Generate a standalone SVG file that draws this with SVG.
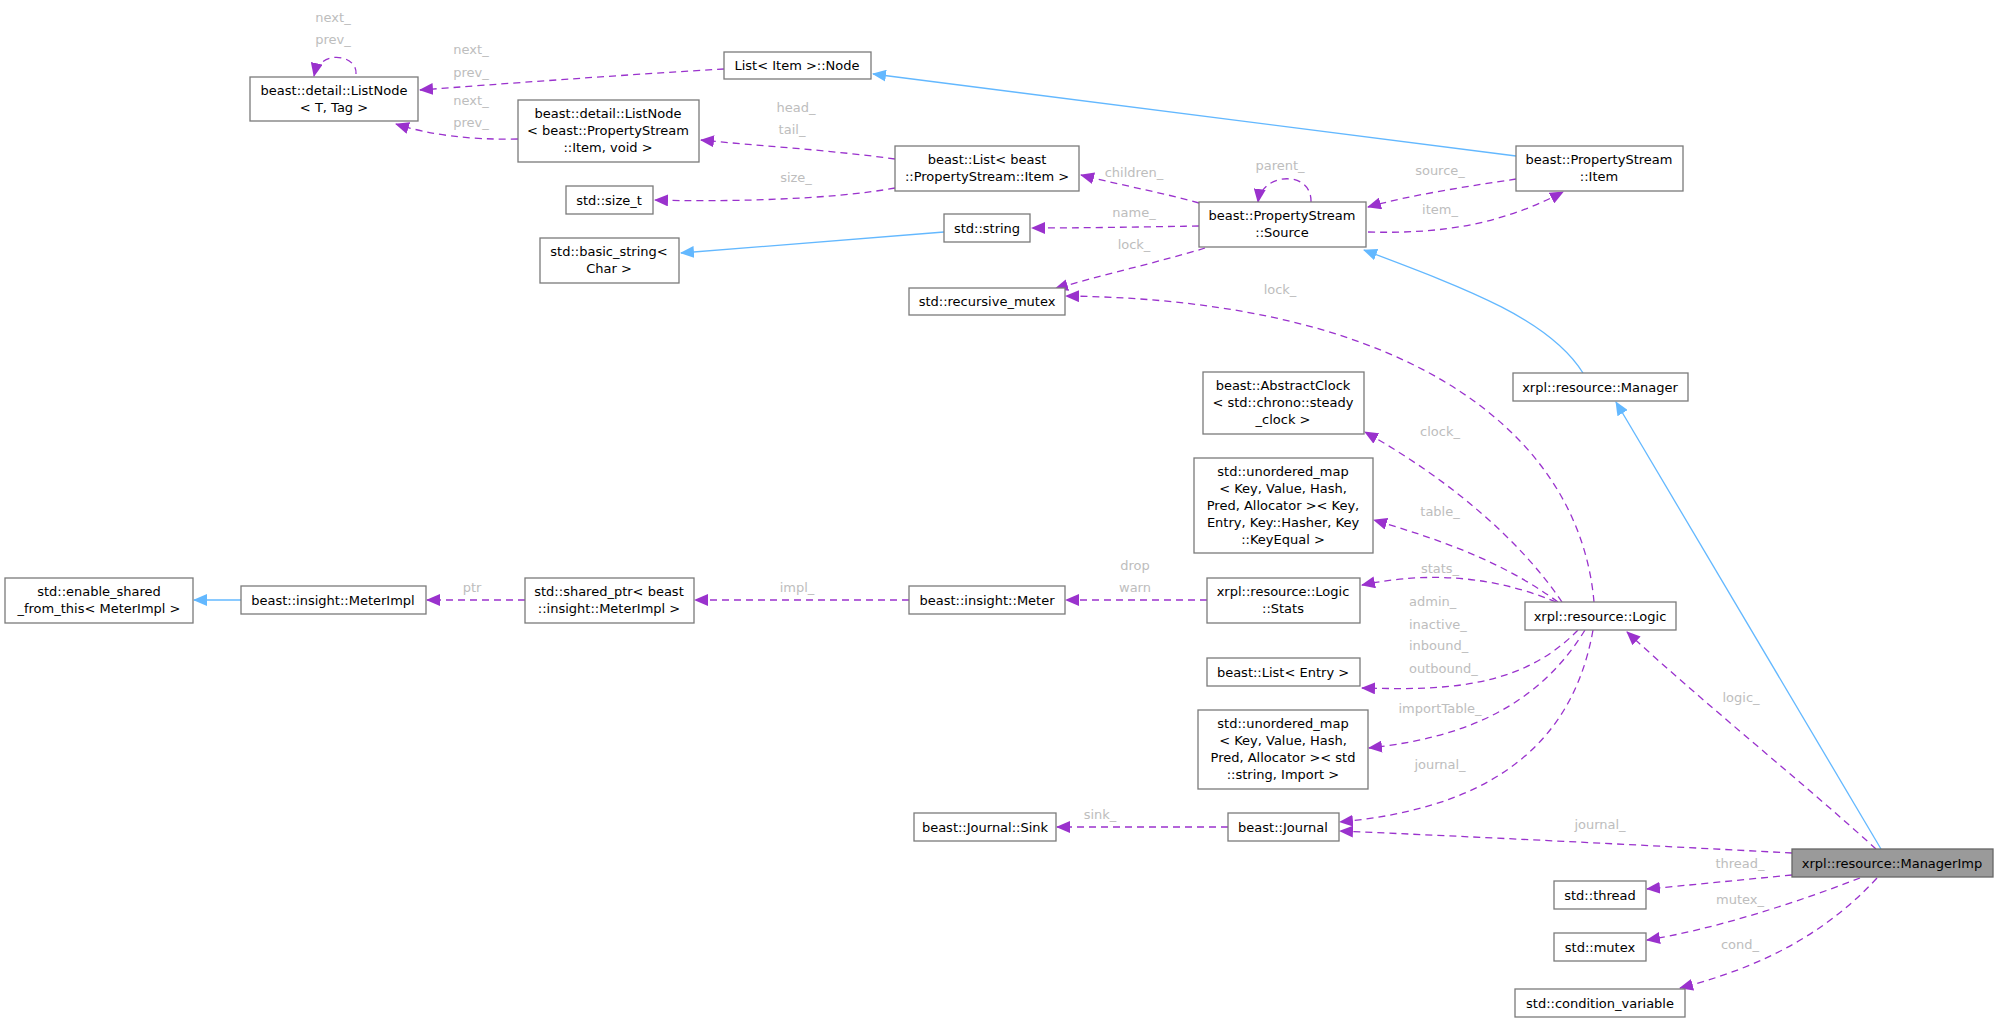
<svg xmlns="http://www.w3.org/2000/svg" width="1999" height="1022" viewBox="0 0 1999 1022">
<style>
text{font-family:"DejaVu Sans","Liberation Sans",sans-serif;font-size:13px;text-anchor:middle}
.n rect{fill:#fff;stroke:#7a7a7a;stroke-width:1.3}
.n text{fill:#000}
.cur rect{fill:#9a9a9a;stroke:#666}
.m{fill:none;stroke:#9a32cd;stroke-width:1.3;stroke-dasharray:7,5}
.i{fill:none;stroke:#63b8ff;stroke-width:1.3}
.l{fill:#bdbdbd}
</style>
<defs>
<marker id="pa" markerWidth="14" markerHeight="12" refX="13" refY="6" orient="auto" markerUnits="userSpaceOnUse"><path d="M0,0 L14,6 L0,12 Z" fill="#9a32cd"/></marker>
<marker id="ba" markerWidth="14" markerHeight="12" refX="13" refY="6" orient="auto" markerUnits="userSpaceOnUse"><path d="M0,0 L14,6 L0,12 Z" fill="#63b8ff"/></marker>
</defs>
<g id="edges">
<path class="m" marker-end="url(#pa)" d="M356,74 C358,55 320,48 314,76"/>
<path class="m" marker-end="url(#pa)" d="M724,69 C620,75 500,84 420,90"/>
<path class="m" marker-end="url(#pa)" d="M518,139 C470,140 430,135 396,124"/>
<path class="m" marker-end="url(#pa)" d="M895,159 C830,150 760,146 701,140"/>
<path class="m" marker-end="url(#pa)" d="M895,188 C830,200 720,202 655,200"/>
<path class="m" marker-end="url(#pa)" d="M1199,203 C1160,192 1120,185 1081,175"/>
<path class="m" marker-end="url(#pa)" d="M1311,202 C1312,170 1262,172 1258,202"/>
<path class="m" marker-end="url(#pa)" d="M1199,226 C1140,227 1080,228 1032,228"/>
<path class="m" marker-end="url(#pa)" d="M1205,248 C1160,262 1100,275 1055,289"/>
<path class="m" marker-end="url(#pa)" d="M1516,179 C1470,186 1410,195 1368,207"/>
<path class="m" marker-end="url(#pa)" d="M1368,232 C1440,234 1500,225 1563,192"/>
<path class="i" marker-end="url(#ba)" d="M1516,156 L873,74"/>
<path class="i" marker-end="url(#ba)" d="M944,232 L681,253"/>
<path class="i" marker-end="url(#ba)" d="M1583,373 C1550,320 1470,290 1364,250"/>
<path class="i" marker-end="url(#ba)" d="M1881,849 L1616,402"/>
<path class="m" marker-end="url(#pa)" d="M1594,602 C1580,440 1420,300 1066,296"/>
<path class="m" marker-end="url(#pa)" d="M1562,602 C1520,540 1450,480 1365,432"/>
<path class="m" marker-end="url(#pa)" d="M1558,602 C1500,560 1440,540 1374,520"/>
<path class="m" marker-end="url(#pa)" d="M1556,602 C1480,570 1410,575 1362,585"/>
<path class="m" marker-end="url(#pa)" d="M1207,600 L1066,600"/>
<path class="m" marker-end="url(#pa)" d="M909,600 L695,600"/>
<path class="m" marker-end="url(#pa)" d="M525,600 L427,600"/>
<path class="i" marker-end="url(#ba)" d="M241,600 L194,600"/>
<path class="m" marker-end="url(#pa)" d="M1578,630 C1520,690 1440,690 1362,688"/>
<path class="m" marker-end="url(#pa)" d="M1585,630 C1530,720 1440,740 1369,748"/>
<path class="m" marker-end="url(#pa)" d="M1593,630 C1570,760 1470,810 1340,822"/>
<path class="m" marker-end="url(#pa)" d="M1228,827 L1057,827"/>
<path class="m" marker-end="url(#pa)" d="M1792,853 C1640,845 1480,837 1340,831"/>
<path class="m" marker-end="url(#pa)" d="M1876,849 C1800,780 1700,700 1627,632"/>
<path class="m" marker-end="url(#pa)" d="M1792,875 C1740,880 1690,885 1647,889"/>
<path class="m" marker-end="url(#pa)" d="M1860,878 C1790,905 1710,930 1647,940"/>
<path class="m" marker-end="url(#pa)" d="M1877,878 C1820,940 1750,970 1680,988"/>
</g>
<g id="labels">
<text class="l" x="333" y="22">next_</text><text class="l" x="333" y="44">prev_</text>
<text class="l" x="471" y="54">next_</text><text class="l" x="471" y="77">prev_</text>
<text class="l" x="471" y="105">next_</text><text class="l" x="471" y="127">prev_</text>
<text class="l" x="796" y="112">head_</text><text class="l" x="792" y="134">tail_</text>
<text class="l" x="796" y="182">size_</text>
<text class="l" x="1134" y="177">children_</text>
<text class="l" x="1280" y="170">parent_</text>
<text class="l" x="1134" y="217">name_</text>
<text class="l" x="1134" y="249">lock_</text>
<text class="l" x="1440" y="175">source_</text>
<text class="l" x="1440" y="214">item_</text>
<text class="l" x="1280" y="294">lock_</text>
<text class="l" x="1440" y="436">clock_</text>
<text class="l" x="1440" y="516">table_</text>
<text class="l" x="1440" y="573">stats_</text>
<text class="l" x="1135" y="570">drop</text><text class="l" x="1135" y="592">warn</text>
<text class="l" x="797" y="592">impl_</text>
<text class="l" x="472" y="592">ptr</text>
<text class="l" x="1409" y="606" style="text-anchor:start">admin_</text>
<text class="l" x="1409" y="629" style="text-anchor:start">inactive_</text>
<text class="l" x="1409" y="650" style="text-anchor:start">inbound_</text>
<text class="l" x="1409" y="673" style="text-anchor:start">outbound_</text>
<text class="l" x="1440" y="713">importTable_</text>
<text class="l" x="1440" y="769">journal_</text>
<text class="l" x="1100" y="819">sink_</text>
<text class="l" x="1600" y="829">journal_</text>
<text class="l" x="1741" y="702">logic_</text>
<text class="l" x="1740" y="868">thread_</text>
<text class="l" x="1740" y="904">mutex_</text>
<text class="l" x="1740" y="949">cond_</text>
</g>
<g id="n_listnode" class="n"><rect x="250" y="77" width="168" height="44"/><text x="334" y="95">beast::detail::ListNode</text><text x="334" y="112">&lt; T, Tag &gt;</text></g>
<g id="n_listitemnode" class="n"><rect x="724" y="52" width="147" height="27"/><text x="797" y="70">List&lt; Item &gt;::Node</text></g>
<g id="n_listnodeps" class="n"><rect x="518" y="100" width="181" height="62"/><text x="608" y="118">beast::detail::ListNode</text><text x="608" y="135">&lt; beast::PropertyStream</text><text x="608" y="152">::Item, void &gt;</text></g>
<g id="n_sizet" class="n"><rect x="566" y="186" width="87" height="28"/><text x="609" y="205">std::size_t</text></g>
<g id="n_basicstring" class="n"><rect x="540" y="238" width="139" height="45"/><text x="609" y="256">std::basic_string&lt;</text><text x="609" y="273">Char &gt;</text></g>
<g id="n_beastlist" class="n"><rect x="895" y="146" width="184" height="45"/><text x="987" y="164">beast::List&lt; beast</text><text x="987" y="181">::PropertyStream::Item &gt;</text></g>
<g id="n_psitem" class="n"><rect x="1516" y="146" width="167" height="45"/><text x="1599" y="164">beast::PropertyStream</text><text x="1599" y="181">::Item</text></g>
<g id="n_source" class="n"><rect x="1199" y="202" width="167" height="45"/><text x="1282" y="220">beast::PropertyStream</text><text x="1282" y="237">::Source</text></g>
<g id="n_string" class="n"><rect x="944" y="214" width="86" height="28"/><text x="987" y="233">std::string</text></g>
<g id="n_rmutex" class="n"><rect x="909" y="288" width="156" height="27"/><text x="987" y="306">std::recursive_mutex</text></g>
<g id="n_manager" class="n"><rect x="1513" y="373" width="175" height="28"/><text x="1600" y="392">xrpl::resource::Manager</text></g>
<g id="n_clock" class="n"><rect x="1203" y="372" width="161" height="62"/><text x="1283" y="390">beast::AbstractClock</text><text x="1283" y="407">&lt; std::chrono::steady</text><text x="1283" y="424">_clock &gt;</text></g>
<g id="n_umap1" class="n"><rect x="1194" y="458" width="179" height="95"/><text x="1283" y="476">std::unordered_map</text><text x="1283" y="493">&lt; Key, Value, Hash,</text><text x="1283" y="510">Pred, Allocator &gt;&lt; Key,</text><text x="1283" y="527">Entry, Key::Hasher, Key</text><text x="1283" y="544">::KeyEqual &gt;</text></g>
<g id="n_stats" class="n"><rect x="1207" y="578" width="153" height="45"/><text x="1283" y="596">xrpl::resource::Logic</text><text x="1283" y="613">::Stats</text></g>
<g id="n_logic" class="n"><rect x="1525" y="602" width="151" height="28"/><text x="1600" y="621">xrpl::resource::Logic</text></g>
<g id="n_listentry" class="n"><rect x="1207" y="658" width="153" height="28"/><text x="1283" y="677">beast::List&lt; Entry &gt;</text></g>
<g id="n_umap2" class="n"><rect x="1198" y="710" width="170" height="79"/><text x="1283" y="728">std::unordered_map</text><text x="1283" y="745">&lt; Key, Value, Hash,</text><text x="1283" y="762">Pred, Allocator &gt;&lt; std</text><text x="1283" y="779">::string, Import &gt;</text></g>
<g id="n_journal" class="n"><rect x="1228" y="813" width="111" height="28"/><text x="1283" y="832">beast::Journal</text></g>
<g id="n_sink" class="n"><rect x="914" y="813" width="142" height="28"/><text x="985" y="832">beast::Journal::Sink</text></g>
<g id="n_meter" class="n"><rect x="909" y="586" width="156" height="28"/><text x="987" y="605">beast::insight::Meter</text></g>
<g id="n_sharedptr" class="n"><rect x="525" y="578" width="169" height="45"/><text x="609" y="596">std::shared_ptr&lt; beast</text><text x="609" y="613">::insight::MeterImpl &gt;</text></g>
<g id="n_meterimpl" class="n"><rect x="241" y="586" width="185" height="28"/><text x="333" y="605">beast::insight::MeterImpl</text></g>
<g id="n_enableshared" class="n"><rect x="5" y="578" width="188" height="45"/><text x="99" y="596">std::enable_shared</text><text x="99" y="613">_from_this&lt; MeterImpl &gt;</text></g>
<g id="n_managerimp" class="n cur"><rect x="1792" y="849" width="201" height="28"/><text x="1892" y="868">xrpl::resource::ManagerImp</text></g>
<g id="n_thread" class="n"><rect x="1554" y="881" width="92" height="28"/><text x="1600" y="900">std::thread</text></g>
<g id="n_mutex" class="n"><rect x="1554" y="933" width="92" height="28"/><text x="1600" y="952">std::mutex</text></g>
<g id="n_cond" class="n"><rect x="1515" y="989" width="170" height="28"/><text x="1600" y="1008">std::condition_variable</text></g>
</svg>
